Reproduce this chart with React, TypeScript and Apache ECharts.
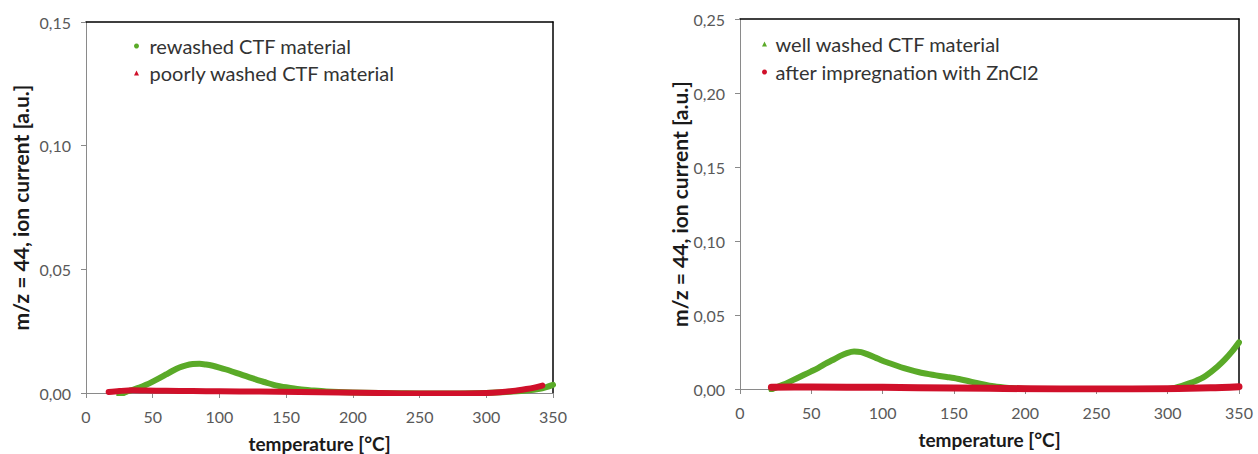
import React, { useEffect, useRef } from "react";
import * as echarts from "echarts";

// Left panel: rewashed vs poorly washed CTF material
const leftGreenT = [25, 30, 35, 40, 45, 50, 55, 60, 65, 70, 75, 80, 85, 90, 95, 100, 105, 110, 115, 120, 125, 130, 135, 140, 145, 150, 160, 170, 180, 200, 220, 240, 260, 280, 300, 320, 330, 340, 345, 350];
const leftGreenV = [-0.0008, 0.0004, 0.0013, 0.0022, 0.0033, 0.0046, 0.006, 0.0075, 0.009, 0.0103, 0.0112, 0.0117, 0.0118, 0.0115, 0.011, 0.0103, 0.0095, 0.0086, 0.0077, 0.0068, 0.0059, 0.005, 0.0042, 0.0034, 0.0028, 0.0023, 0.0015, 0.001, 0.0006, 0.0002, 0, -0.0001, -0.0002, -0.0002, 0, 0.0006, 0.001, 0.0017, 0.0024, 0.0033];
const leftRedT = [17, 25, 35, 45, 60, 80, 100, 130, 160, 190, 220, 250, 280, 300, 310, 320, 330, 336, 342];
const leftRedV = [0.0004, 0.0008, 0.0011, 0.001, 0.0009, 0.0008, 0.0007, 0.0006, 0.0004, 0.0002, 0, -0.0002, -0.0002, 0, 0.0003, 0.0008, 0.0016, 0.0022, 0.003];

// Right panel: well washed vs after impregnation with ZnCl2
const rightGreenT = [22, 25, 30, 35, 40, 45, 50, 55, 60, 65, 70, 75, 80, 85, 90, 95, 100, 105, 110, 115, 120, 125, 130, 135, 140, 145, 150, 155, 160, 165, 170, 175, 180, 185, 190, 200, 220, 250, 280, 300, 305, 310, 315, 320, 325, 330, 335, 340, 345, 350];
const rightGreenV = [-0.0003, 0.0008, 0.0028, 0.005, 0.0073, 0.0096, 0.0119, 0.0143, 0.0171, 0.0196, 0.0222, 0.0243, 0.0254, 0.0249, 0.0232, 0.0212, 0.0191, 0.0174, 0.0157, 0.0141, 0.0127, 0.0115, 0.0105, 0.0096, 0.0088, 0.0081, 0.0074, 0.0064, 0.0054, 0.0043, 0.0032, 0.0022, 0.0016, 0.0011, 0.0006, 0.0001, -0.0002, -0.0003, -0.0002, 0, 0.0008, 0.0022, 0.0038, 0.0056, 0.0078, 0.0113, 0.0152, 0.0198, 0.0252, 0.0315];
const rightRedT = [22, 50, 100, 150, 200, 250, 300, 330, 350];
const rightRedV = [0.0012, 0.0013, 0.0011, 0.0007, 0.0002, 0, 0.0002, 0.0008, 0.0016];

const xTicks = { min: 0, max: 350, interval: 50 };
const leftY = { min: 0, max: 0.15, interval: 0.05 };
const rightY = { min: 0, max: 0.25, interval: 0.05 };

const leftNames = ["rewashed CTF material", "poorly washed CTF material"];
const rightNames = ["well washed CTF material", "after impregnation with ZnCl2"];

const GREEN = "#5AAA28";
const RED = "#D0102A";
const AXIS = "#8A8A8A";
const LABEL = "#595959";
const FONT = "Lato";
const TRI = "path://M5,0 L10,10 L0,10 Z";

const pairs = (t: number[], v: number[]) => t.map((x, i) => [x, v[i]]);
const fmt = (v: number) => v.toFixed(2).replace(".", ",");

function xAxisMain(grid: number) {
  return {
    type: "value",
    gridIndex: grid,
    ...xTicks,
    name: "temperature [°C]",
    nameLocation: "middle",
    nameGap: 41,
    nameTextStyle: { fontFamily: FONT, fontSize: 19, fontWeight: "bold", color: "#1a1a1a" },
    axisLine: { show: true, onZero: false, lineStyle: { color: AXIS, width: 1 } },
    axisTick: { show: true, inside: false, length: 5, lineStyle: { color: AXIS } },
    axisLabel: { fontFamily: FONT, fontSize: 16, color: LABEL, margin: 15 },
    splitLine: { show: false },
  };
}
function xAxisBorder(grid: number) {
  return {
    type: "value",
    gridIndex: grid,
    position: "top",
    ...xTicks,
    axisLine: { show: true, onZero: false, lineStyle: { color: "#000", width: 1.5 } },
    axisTick: { show: false },
    axisLabel: { show: false },
    splitLine: { show: false },
  };
}
function yAxisMain(grid: number, range: any, gap: number) {
  return {
    type: "value",
    gridIndex: grid,
    ...range,
    name: "m/z = 44, ion current [a.u.]",
    nameLocation: "middle",
    nameRotate: 90,
    nameGap: gap,
    nameTextStyle: { fontFamily: FONT, fontSize: 21, fontWeight: "bold", color: "#1a1a1a" },
    axisLine: { show: true, onZero: false, lineStyle: { color: AXIS, width: 1 } },
    axisTick: { show: true, inside: false, length: 5, lineStyle: { color: AXIS } },
    axisLabel: { fontFamily: FONT, fontSize: 16, color: LABEL, margin: 15, formatter: fmt },
    splitLine: { show: false },
  };
}
function yAxisBorder(grid: number, range: any) {
  return {
    type: "value",
    gridIndex: grid,
    position: "right",
    ...range,
    axisLine: { show: true, onZero: false, lineStyle: { color: "#000", width: 1.5 } },
    axisTick: { show: false },
    axisLabel: { show: false },
    splitLine: { show: false },
  };
}
function line(name: string, xi: number, yi: number, data: number[][], color: string, width: number, z: number) {
  return {
    name,
    type: "line",
    xAxisIndex: xi,
    yAxisIndex: yi,
    data,
    showSymbol: false,
    symbol: "none",
    smooth: 0.3,
    z,
    lineStyle: { color, width, cap: "round", join: "round" },
    itemStyle: { color },
  };
}

export default function App() {
  const ref = useRef<HTMLDivElement>(null);
  useEffect(() => {
    if (!ref.current) return;
    const chart = echarts.init(ref.current, null, { renderer: "svg" });
    chart.setOption({
      animation: false,
      backgroundColor: "#fff",
      grid: [
        { left: 86, top: 22, width: 467, height: 371, outerBoundsMode: "none", containLabel: false },
        { left: 740, top: 19, width: 499, height: 370, outerBoundsMode: "none", containLabel: false },
      ],
      xAxis: [xAxisMain(0), xAxisBorder(0), xAxisMain(1), xAxisBorder(1)],
      yAxis: [yAxisMain(0, leftY, 55), yAxisBorder(0, leftY), yAxisMain(1, rightY, 46), yAxisBorder(1, rightY)],
      legend: [
        {
          left: 129,
          top: 31,
          orient: "vertical",
          itemWidth: 16,
          itemHeight: 5,
          itemGap: 7,
          textStyle: { fontFamily: FONT, fontSize: 20, color: "#333" },
          data: [
            { name: leftNames[0], icon: "circle" },
            { name: leftNames[1], icon: TRI },
          ],
        },
        {
          left: 757,
          top: 29,
          orient: "vertical",
          itemWidth: 12,
          itemHeight: 5,
          itemGap: 8,
          textStyle: { fontFamily: FONT, fontSize: 20, color: "#333" },
          data: [
            { name: rightNames[0], icon: TRI },
            { name: rightNames[1], icon: "circle" },
          ],
        },
      ],
      series: [
        line(leftNames[0], 0, 0, pairs(leftGreenT, leftGreenV), GREEN, 6, 2),
        line(leftNames[1], 0, 0, pairs(leftRedT, leftRedV), RED, 6, 3),
        line(rightNames[0], 2, 2, pairs(rightGreenT, rightGreenV), GREEN, 6, 2),
        line(rightNames[1], 2, 2, pairs(rightRedT, rightRedV), RED, 7, 3),
      ],
    });
    return () => chart.dispose();
  }, []);
  return <div ref={ref} style={{ position: "fixed", left: 0, top: 0, width: 1258, height: 454 }} />;
}
